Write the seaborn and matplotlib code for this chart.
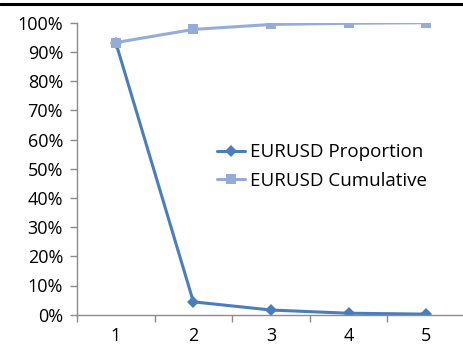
import matplotlib
matplotlib.use("Agg")
import matplotlib.pyplot as plt
from matplotlib.lines import Line2D
from matplotlib.ticker import FixedLocator, PercentFormatter
import numpy as np
import pandas as pd
import seaborn as sns

# Share of each rank and running total (percent)
ranks = [1, 2, 3, 4, 5]
proportion = [93.2, 4.4, 1.6, 0.5, 0.2]
cumulative = [93.2, 97.7, 99.4, 99.8, 100.0]
series_names = ["EURUSD Proportion", "EURUSD Cumulative"]
y_ticks = [0, 10, 20, 30, 40, 50, 60, 70, 80, 90, 100]

sns.set_theme(style="white")
plt.rcParams["font.family"] = ["Open Sans", "DejaVu Sans"]

df = pd.DataFrame({
    "rank": ranks * 2,
    "value": proportion + cumulative,
    "series": [series_names[0]] * len(ranks) + [series_names[1]] * len(ranks),
})

fig = plt.figure(figsize=(4.63, 3.44), dpi=100)
ax = fig.add_axes([77 / 463, 29.3 / 344, 388 / 463, 292 / 344])

blue = "#4a7ebb"
light = "#95add6"
palette = {series_names[0]: blue, series_names[1]: light}
markers = {series_names[0]: "D", series_names[1]: "s"}
sns.lineplot(data=df, x="rank", y="value", hue="series", style="series",
             palette=palette, markers=markers, dashes=False, linewidth=2.2,
             markersize=7, markeredgewidth=0, ax=ax, legend=False)
for line in ax.lines:
    if line.get_color() == blue:
        line.set_markersize(6)
        line.set_zorder(2)
    else:
        line.set_zorder(3)

ax.set_xlim(0.5, 5.5)
ax.set_ylim(0, 100)
ax.set_xlabel("")
ax.set_ylabel("")
ax.set_xticks(ranks)
ax.set_xticklabels([str(r) for r in ranks])
ax.xaxis.set_minor_locator(FixedLocator(np.arange(0.5, 6.0, 1.0)))
ax.set_yticks(y_ticks)
ax.yaxis.set_major_formatter(PercentFormatter(decimals=0))

for side in ["top", "right"]:
    ax.spines[side].set_visible(False)
for side in ["left", "bottom"]:
    ax.spines[side].set_color("#8c8c8c")
    ax.spines[side].set_linewidth(1.0)

ax.tick_params(axis="x", which="major", length=0, pad=9, labelsize=13, colors="black")
ax.tick_params(axis="x", which="minor", length=5, width=1.0, color="#8c8c8c", direction="out")
ax.tick_params(axis="y", which="major", length=5, width=1.0, color="#8c8c8c",
               direction="out", pad=5, labelsize=13, labelcolor="black")
ax.tick_params(bottom=True, left=True, which="both")

handles = [
    Line2D([], [], color=blue, lw=2.2, marker="D", markersize=6, markeredgewidth=0),
    Line2D([], [], color=light, lw=2.2, marker="s", markersize=7, markeredgewidth=0),
]
leg = ax.legend(handles, series_names, loc="center left", bbox_to_anchor=(0.361, 0.507),
                frameon=False, fontsize=13.5, handlelength=1.5, handletextpad=0.25,
                labelspacing=0.55, borderpad=0, borderaxespad=0)
for text in leg.get_texts():
    text.set_color("black")

# Dark rule across the top of the figure
fig.add_artist(Line2D([0, 1], [1 - 3.5 / 344, 1 - 3.5 / 344], color="black", lw=2.2,
                      transform=fig.transFigure))

fig.savefig("out.png", dpi=100, facecolor="white")
